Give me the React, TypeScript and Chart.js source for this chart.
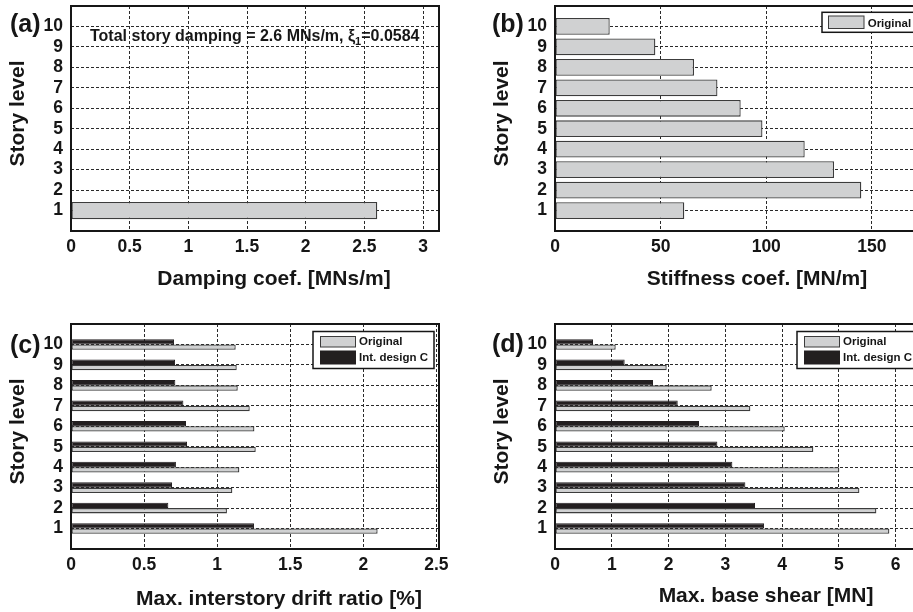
import React, { useEffect, useRef } from "react";
import { Chart, registerables } from "chart.js";

Chart.register(...registerables);

// ---------- data ----------
const storyLevels = [1, 2, 3, 4, 5, 6, 7, 8, 9, 10];
const dampingCoef = [2.61, 0, 0, 0, 0, 0, 0, 0, 0, 0];
const stiffnessOriginal = [61.2, 145.0, 132.1, 118.2, 98.2, 87.9, 76.9, 65.8, 47.5, 25.9];
const driftOriginal = [2.098, 1.067, 1.104, 1.152, 1.264, 1.255, 1.223, 1.141, 1.134, 1.127];
const driftIntC = [1.252, 0.666, 0.691, 0.718, 0.794, 0.787, 0.769, 0.714, 0.712, 0.705];
const shearOriginal = [5.888, 5.659, 5.36, 5.007, 4.549, 4.045, 3.44, 2.759, 1.967, 1.069];
const shearIntC = [3.681, 3.522, 3.352, 3.123, 2.859, 2.536, 2.161, 1.726, 1.227, 0.669];

const seriesLabels = ["Original", "Int. design C"];
const noteText = ["Total story damping = 2.6 MNs/m, ξ", "1", "=0.0584"];

// ---------- style ----------
const FONT = '"Liberation Sans", Arial, Helvetica, sans-serif';
const INK = "#161616";
const GRAY_FILL = "#d0d1d2";
const GRAY_EDGE = "#3c3c3c";
const BLACK_FILL = "#231f20";

const Y_AXIS_W = 68;
const PAD_TOP = 22;
const PAD_RIGHT = 24;
const PLOT_W = 368;
const PLOT_H = 225;
const X_AXIS_H = 65;
const CANVAS_W = Y_AXIS_W + PLOT_W + PAD_RIGHT;
const CANVAS_H = PAD_TOP + PLOT_H + X_AXIS_H;

type Series = { label: string; values: number[]; fill: string; border: string; bw: number };
type LegendSpec = {
  x: number; y: number; w: number; h: number;
  swX: number; swW: number; textX: number;
  rows: { swY: number; swH: number; base: number }[];
};
type PanelProps = {
  left: number;
  top: number;
  series: Series[];
  legendOrder: number[];
  xMax: number;
  xStep: number;
  catPct: number;
  panel: string;
  panelDx: number;
  panelDy: number;
  xTitle: string;
  xTitleDx: number;
  xTitleDy: number;
  legend?: LegendSpec;
  note?: boolean;
};

const decorPlugin = {
  id: "decor",
  afterDraw(chart: any, _args: any, o: any) {
    const { ctx } = chart;
    const { left, top, right, bottom } = chart.chartArea;
    ctx.save();
    ctx.setLineDash([]);
    // frame
    ctx.strokeStyle = INK;
    ctx.lineWidth = 2;
    ctx.strokeRect(left, top, right - left, bottom - top);

    ctx.fillStyle = INK;
    ctx.textBaseline = "alphabetic";
    // panel label
    ctx.font = `bold 25px ${FONT}`;
    ctx.textAlign = "left";
    ctx.fillText(o.panel, left + o.panelDx, top + o.panelDy);

    // x title
    ctx.font = `bold 21px ${FONT}`;
    ctx.textAlign = "center";
    ctx.fillText(o.xTitle, left + o.xTitleDx, bottom + o.xTitleDy);

    // y title
    ctx.save();
    ctx.translate(left - 53, (top + bottom) / 2 - 5);
    ctx.rotate(-Math.PI / 2);
    ctx.textBaseline = "middle";
    ctx.textAlign = "center";
    ctx.fillText("Story level", 0, 0);
    ctx.restore();

    // legend
    const lg: LegendSpec | undefined = o.legend;
    if (lg) {
      ctx.fillStyle = "#ffffff";
      ctx.fillRect(left + lg.x, top + lg.y, lg.w, lg.h);
      ctx.strokeStyle = INK;
      ctx.lineWidth = 1.5;
      ctx.strokeRect(left + lg.x, top + lg.y, lg.w, lg.h);
      ctx.font = `bold 11.5px ${FONT}`;
      ctx.textAlign = "left";
      ctx.textBaseline = "alphabetic";
      o.legendItems.forEach((it: Series, i: number) => {
        const r = lg.rows[i];
        ctx.fillStyle = it.fill;
        ctx.fillRect(left + lg.swX, top + r.swY, lg.swW, r.swH);
        ctx.strokeStyle = it.border;
        ctx.lineWidth = 1;
        ctx.strokeRect(left + lg.swX, top + r.swY, lg.swW, r.swH);
        ctx.fillStyle = INK;
        ctx.fillText(it.label, left + lg.textX, top + r.base);
      });
    }

    // annotation
    if (o.note) {
      ctx.fillStyle = INK;
      ctx.textAlign = "left";
      ctx.textBaseline = "alphabetic";
      let x = left + 19;
      const y = top + 35;
      ctx.font = `bold 16px ${FONT}`;
      ctx.fillText(noteText[0], x, y);
      x += ctx.measureText(noteText[0]).width;
      ctx.font = `bold 11px ${FONT}`;
      ctx.fillText(noteText[1], x, y + 4);
      x += ctx.measureText(noteText[1]).width;
      ctx.font = `bold 16px ${FONT}`;
      ctx.fillText(noteText[2], x, y);
    }
    ctx.restore();
  },
};

function Panel(p: PanelProps) {
  const ref = useRef<HTMLCanvasElement>(null);
  useEffect(() => {
    const canvas = ref.current;
    if (!canvas) return;
    const tickFont = { family: FONT, size: 17.5, weight: "bold" as const };
    const chart = new Chart(canvas, {
      type: "bar",
      data: {
        datasets: p.series.map((s) => ({
          label: s.label,
          data: storyLevels.map((lv, i) => ({ x: s.values[i], y: lv })),
          backgroundColor: s.fill,
          borderColor: s.border,
          borderWidth: (c: any) => (c.raw && c.raw.x === 0 ? 0 : s.bw),
          borderSkipped: false,
          categoryPercentage: p.catPct,
          barPercentage: 1,
        })),
      },
      options: {
        indexAxis: "y",
        responsive: false,
        maintainAspectRatio: false,
        animation: false,
        devicePixelRatio: 1,
        events: [],
        layout: { padding: { top: PAD_TOP, right: PAD_RIGHT, bottom: 0, left: 0 } },
        plugins: {
          legend: { display: false },
          tooltip: { enabled: false },
          decor: {
            panel: p.panel,
            panelDx: p.panelDx,
            panelDy: p.panelDy,
            xTitle: p.xTitle,
            xTitleDx: p.xTitleDx,
            xTitleDy: p.xTitleDy,
            legend: p.legend,
            legendItems: p.legendOrder.map((i) => p.series[i]),
            note: !!p.note,
          },
        } as any,
        scales: {
          x: {
            type: "linear",
            min: 0,
            max: p.xMax,
            offset: false,
            afterFit: (s: any) => {
              s.height = X_AXIS_H;
            },
            ticks: {
              stepSize: p.xStep,
              includeBounds: false,
              autoSkip: false,
              maxRotation: 0,
              padding: 6,
              color: INK,
              font: tickFont,
              callback: (v: any) => String(+Number(v).toFixed(2)),
            },
            grid: { color: "#2a2a2a", lineWidth: 1, drawTicks: false, offset: false },
            border: { display: false, dash: [3, 2] },
          },
          y: {
            type: "linear",
            min: 0,
            max: 11,
            offset: false,
            afterFit: (s: any) => {
              s.width = Y_AXIS_W;
            },
            ticks: {
              stepSize: 1,
              autoSkip: false,
              padding: 8,
              color: INK,
              font: tickFont,
              callback: (v: any) => (v >= 1 && v <= 10 ? String(v) : null),
            },
            grid: { color: "#2a2a2a", lineWidth: 1, drawTicks: false, offset: false },
            border: { display: false, dash: [3, 2] },
          },
        },
      } as any,
      plugins: [decorPlugin as any],
    });
    return () => chart.destroy();
  }, []);
  return (
    <canvas
      ref={ref}
      width={CANVAS_W}
      height={CANVAS_H}
      style={{ position: "absolute", left: p.left, top: p.top, width: CANVAS_W, height: CANVAS_H }}
    />
  );
}

const legendTwo: LegendSpec = {
  x: 242, y: 7.5, w: 121, h: 37,
  swX: 249.5, swW: 35, textX: 288,
  rows: [
    { swY: 12.5, swH: 10.5, base: 21 },
    { swY: 27, swH: 13, base: 36.5 },
  ],
};
const legendOne: LegendSpec = {
  x: 267, y: 6.3, w: 96, h: 20,
  swX: 273.5, swW: 35.5, textX: 312.7,
  rows: [{ swY: 10, swH: 12.5, base: 20.5 }],
};

export default function App() {
  const grayOriginal = (values: number[]): Series => ({
    label: seriesLabels[0], values, fill: GRAY_FILL, border: GRAY_EDGE, bw: 1.3,
  });
  const blackIntC = (values: number[]): Series => ({
    label: seriesLabels[1], values, fill: BLACK_FILL, border: BLACK_FILL, bw: 1,
  });
  return (
    <div
      style={{
        position: "absolute", left: 0, top: 0, width: 913, height: 612,
        overflow: "hidden", background: "#ffffff",
      }}
    >
      <Panel
        left={71 - Y_AXIS_W} top={6 - PAD_TOP}
        series={[grayOriginal(dampingCoef)]} legendOrder={[]}
        xMax={3.136} xStep={0.5} catPct={0.84}
        panel="(a)" panelDx={-61} panelDy={26}
        xTitle="Damping coef. [MNs/m]" xTitleDx={203} xTitleDy={54}
        note
      />
      <Panel
        left={555 - Y_AXIS_W} top={6 - PAD_TOP}
        series={[grayOriginal(stiffnessOriginal)]} legendOrder={[0]}
        xMax={174.2} xStep={50} catPct={0.82}
        panel="(b)" panelDx={-63} panelDy={26}
        xTitle="Stiffness coef. [MN/m]" xTitleDx={202} xTitleDy={54}
        legend={legendOne}
      />
      <Panel
        left={71 - Y_AXIS_W} top={324 - PAD_TOP}
        series={[blackIntC(driftIntC), grayOriginal(driftOriginal)]} legendOrder={[1, 0]}
        xMax={2.518} xStep={0.5} catPct={0.52}
        panel="(c)" panelDx={-61} panelDy={29}
        xTitle="Max. interstory drift ratio [%]" xTitleDx={208} xTitleDy={56}
        legend={legendTwo}
      />
      <Panel
        left={555 - Y_AXIS_W} top={324 - PAD_TOP}
        series={[blackIntC(shearIntC), grayOriginal(shearOriginal)]} legendOrder={[1, 0]}
        xMax={6.48} xStep={1} catPct={0.52}
        panel="(d)" panelDx={-63} panelDy={28}
        xTitle="Max. base shear [MN]" xTitleDx={211} xTitleDy={53}
        legend={legendTwo}
      />
    </div>
  );
}
